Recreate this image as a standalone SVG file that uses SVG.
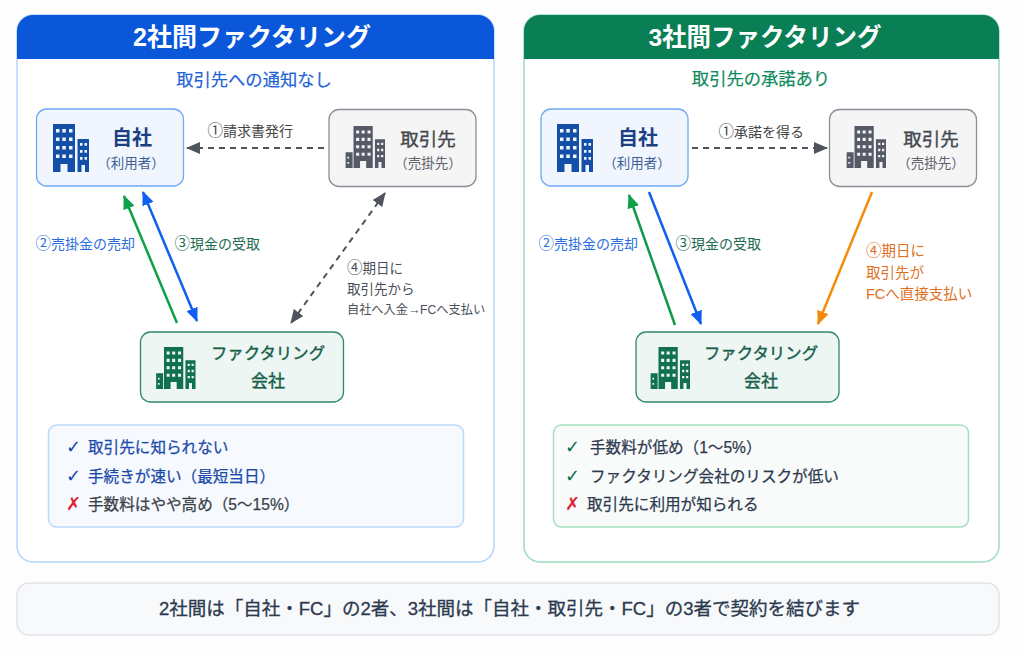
<svg xmlns="http://www.w3.org/2000/svg" width="1024" height="650" viewBox="0 0 1024 650">
<style>
text{font-family:"Liberation Sans","Noto Sans CJK JP",sans-serif}
.mid{text-anchor:middle}
.title{font-size:25px;font-weight:700;fill:#fff;text-anchor:middle}
.sub{font-size:17.3px;font-weight:400;text-anchor:middle;stroke-width:.2}
.panel{fill:#fff;stroke-width:1.5}
.me{fill:#f1f6fe;stroke:#6ea8f7;stroke-width:1.3}
.cu{fill:#f5f5f6;stroke:#8a8f98;stroke-width:1.3}
.fc{fill:#edf6f2;stroke:#2f8a63;stroke-width:1.3}
.n1{font-size:20px;font-weight:700;fill:#1c3f82;text-anchor:middle}
.n2{font-size:18.5px;fill:#45494f;stroke:#45494f;stroke-width:.4;text-anchor:middle}
.n3{font-size:16.4px;fill:#17604a;stroke:#17604a;stroke-width:.4;text-anchor:middle}
.s{font-size:13.5px;text-anchor:middle}
.lb{font-size:14px}
.c{font-size:15.5px}
.l4{font-size:13.5px;fill:#4a4f58}
.l5{font-size:14.5px;fill:#e0701e}
.it{font-size:15.6px;stroke-width:.25}
.ck{font-size:18px;font-weight:700;font-family:"DejaVu Sans",sans-serif}
.line{fill:none;stroke-width:2.5}
.dash{fill:none;stroke:#4f545c;stroke-width:2;stroke-dasharray:6 5}
</style>
<defs>
<marker id="mGray" markerUnits="userSpaceOnUse" viewBox="0 0 14 12" refX="13" refY="6" markerWidth="14" markerHeight="12" orient="auto-start-reverse"><path d="M0 0L14 6L0 12Z" fill="#4f545c"/></marker>
<marker id="mGreen" markerUnits="userSpaceOnUse" viewBox="0 0 14 12" refX="13" refY="6" markerWidth="14" markerHeight="12" orient="auto"><path d="M0 0L14 6L0 12Z" fill="#0fa14a"/></marker>
<marker id="mBlue" markerUnits="userSpaceOnUse" viewBox="0 0 14 12" refX="13" refY="6" markerWidth="14" markerHeight="12" orient="auto-start-reverse"><path d="M0 0L14 6L0 12Z" fill="#0f5ff0"/></marker>
<marker id="mOrange" markerUnits="userSpaceOnUse" viewBox="0 0 14 12" refX="13" refY="6" markerWidth="14" markerHeight="12" orient="auto"><path d="M0 0L14 6L0 12Z" fill="#f58a0b"/></marker>
<path id="bldg" fill-rule="evenodd" d="M0 0H22V48H14.500V40H7.500V48H0Z M3 5h3.500v3.500h-3.500z M9.300 5h3.500v3.500h-3.500z M16 5h3.500v3.500h-3.500z M3 13.500h3.500v3.500h-3.500z M9.300 13.500h3.500v3.500h-3.500z M16 13.500h3.500v3.500h-3.500z M3 22h3.500v3.500h-3.500z M9.300 22h3.500v3.500h-3.500z M16 22h3.500v3.500h-3.500z M3 30.500h3.500v3.500h-3.500z M9.300 30.500h3.500v3.500h-3.500z M16 30.500h3.500v3.500h-3.500z M24.500 15H36V48H32V41H28.500V48H24.500Z M27 19h2.500v2.800h-2.500z M31.500 19h2.500v2.800h-2.500z M27 26h2.500v2.800h-2.500z M31.500 26h2.500v2.800h-2.500z M27 33h2.500v2.800h-2.500z M31.500 33h2.500v2.800h-2.500z"/>
<path id="annex" fill-rule="evenodd" d="M-9 30H-1V48H-9Z M-7 35h2v2h-2z M-7 41h2v2h-2z"/>
</defs>
<rect width="1024" height="650" fill="#fdfdfe"/>

<g id="panel-2">
<rect class="panel" x="17" y="15" width="477" height="547" rx="16" stroke="#b5d3fb"/>
<path d="M17 59V31A16 16 0 0 1 33 15H478A16 16 0 0 1 494 31V59Z" fill="#0b57d9"/>
<text class="title" x="252" y="46">2社間ファクタリング</text>
<text class="sub" x="254" y="86" fill="#1f62d8" stroke="#1f62d8">取引先への通知なし</text>
</g>
<g id="panel-3">
<rect class="panel" x="524" y="15" width="475" height="547" rx="16" stroke="#9ddcbc"/>
<path d="M524 59V31A16 16 0 0 1 540 15H983A16 16 0 0 1 999 31V59Z" fill="#0a7f55"/>
<text class="title" x="765" y="46" style="font-size:24.500px">3社間ファクタリング</text>
<text class="sub" x="761" y="85" fill="#0f8a5c" stroke="#0f8a5c">取引先の承諾あり</text>
</g>

<g id="connectors">
<path class="dash" d="M324 148H187" marker-end="url(#mGray)"/>
<path class="line" stroke="#0fa14a" d="M177 323L124 196" marker-end="url(#mGreen)"/>
<path class="line" stroke="#0f5ff0" d="M143 192L197 321" marker-start="url(#mBlue)" marker-end="url(#mBlue)"/>
<path class="dash" d="M385 193L291 323" marker-start="url(#mGray)" marker-end="url(#mGray)"/>
<path class="dash" d="M692 148H827" marker-end="url(#mGray)"/>
<path class="line" stroke="#0f9a4a" d="M675 325L629 195" marker-end="url(#mGreen)"/>
<path class="line" stroke="#0f5ff0" d="M649 192L701 324" marker-end="url(#mBlue)"/>
<path class="line" stroke="#f58a0b" d="M872 192L818 324" marker-end="url(#mOrange)"/>
</g>

<g id="labels-2">
<text class="lb" x="207.500" y="136" fill="#444"><tspan class="c">①</tspan>請求書発行</text>
<text class="lb" x="35.500" y="249" fill="#2b6de0"><tspan class="c">②</tspan>売掛金の売却</text>
<text class="lb" x="174.500" y="249" fill="#1d6b50"><tspan class="c">③</tspan>現金の受取</text>
<text class="l4" x="347" y="273"><tspan class="c">④</tspan>期日に</text>
<text class="l4" x="347" y="294">取引先から</text>
<text class="l4" x="347" y="314" style="font-size:12.200px">自社へ入金→FCへ支払い</text>
</g>
<g id="labels-3">
<text class="lb" x="718.500" y="137" fill="#444"><tspan class="c">①</tspan>承諾を得る</text>
<text class="lb" x="538.500" y="249" fill="#2b6de0"><tspan class="c">②</tspan>売掛金の売却</text>
<text class="lb" x="675.500" y="249" fill="#1d6b50"><tspan class="c">③</tspan>現金の受取</text>
<text class="l5" x="866" y="256"><tspan class="c">④</tspan>期日に</text>
<text class="l5" x="866" y="278">取引先が</text>
<text class="l5" x="866" y="299">FCへ直接支払い</text>
</g>

<g id="node-self-2">
<rect class="me" x="36.500" y="109" width="147" height="77" rx="10"/>
<use href="#bldg" x="53" y="124" fill="#1450a8"/>
<text class="n1" x="132" y="145">自社</text>
<text class="s" x="131" y="168" fill="#3f5f94">（利用者）</text>
</g>
<g id="node-customer-2">
<rect class="cu" x="329" y="109.500" width="147" height="77" rx="10"/>
<g transform="translate(353.500 126) scale(.875)" fill="#555a66"><use href="#bldg"/><use href="#annex"/></g>
<text class="n2" x="428" y="146">取引先</text>
<text class="s" x="428" y="168" fill="#5f636b">（売掛先）</text>
</g>
<g id="node-fc-2">
<rect class="fc" x="140.500" y="332" width="203" height="70" rx="10"/>
<g transform="translate(164 347) scale(.875)" fill="#11704e"><use href="#bldg"/><use href="#annex"/></g>
<text class="n3" x="268" y="359">ファクタリング</text>
<text class="n3" x="268" y="387" style="font-size:17px">会社</text>
</g>

<g id="node-self-3">
<rect class="me" x="541" y="109" width="147" height="77" rx="10"/>
<use href="#bldg" x="557" y="124" fill="#1450a8"/>
<text class="n1" x="638" y="145">自社</text>
<text class="s" x="637" y="168" fill="#3f5f94">（利用者）</text>
</g>
<g id="node-customer-3">
<rect class="cu" x="829.500" y="109.500" width="147" height="77" rx="10"/>
<g transform="translate(854.500 126) scale(.875)" fill="#555a66"><use href="#bldg"/><use href="#annex"/></g>
<text class="n2" x="931" y="146">取引先</text>
<text class="s" x="931" y="168" fill="#5f636b">（売掛先）</text>
</g>
<g id="node-fc-3">
<rect class="fc" x="636" y="332" width="203" height="70" rx="10"/>
<g transform="translate(658.500 347) scale(.875)" fill="#11704e"><use href="#bldg"/><use href="#annex"/></g>
<text class="n3" x="761" y="359">ファクタリング</text>
<text class="n3" x="761" y="387" style="font-size:17px">会社</text>
</g>

<g id="list-2">
<rect x="48.500" y="425" width="415" height="102" rx="8" fill="#f6f9fe" stroke="#bcd8fb" stroke-width="1.500"/>
<text class="ck" x="66" y="453" fill="#0f46a8">✓</text>
<text class="it" x="88" y="452.500" fill="#1c4aa8" stroke="#1c4aa8">取引先に知られない</text>
<text class="ck" x="66" y="482" fill="#0f46a8">✓</text>
<text class="it" x="88" y="481.500" fill="#1c4aa8" stroke="#1c4aa8">手続きが速い（最短当日）</text>
<text class="ck" x="66" y="510" fill="#dc2430">✗</text>
<text class="it" x="88" y="509.500" fill="#3a3f48" stroke="#3a3f48">手数料はやや高め（5〜15%）</text>
</g>
<g id="list-3">
<rect x="553.500" y="425" width="415" height="102" rx="8" fill="#f9fbfb" stroke="#a5dfc1" stroke-width="1.500"/>
<text class="ck" x="565" y="453" fill="#0a6b48">✓</text>
<text class="it" x="590" y="452.500" fill="#2d3a4d" stroke="#2d3a4d">手数料が低め（1〜5%）</text>
<text class="ck" x="565" y="482" fill="#0a6b48">✓</text>
<text class="it" x="590" y="481.500" fill="#2d3a4d" stroke="#2d3a4d">ファクタリング会社のリスクが低い</text>
<text class="ck" x="565" y="510" fill="#dc2430">✗</text>
<text class="it" x="587" y="509.500" fill="#2d3a4d" stroke="#2d3a4d">取引先に利用が知られる</text>
</g>

<g id="note">
<rect x="17" y="583" width="982" height="52" rx="12" fill="#f8f9fb" stroke="#e0e3e9" stroke-width="1.500"/>
<text class="mid" x="509.500" y="615" fill="#2b3a4f" stroke="#2b3a4f" stroke-width=".3" style="font-size:18.500px">2社間は「自社・FC」の2者、3社間は「自社・取引先・FC」の3者で契約を結びます</text>
</g>
</svg>
